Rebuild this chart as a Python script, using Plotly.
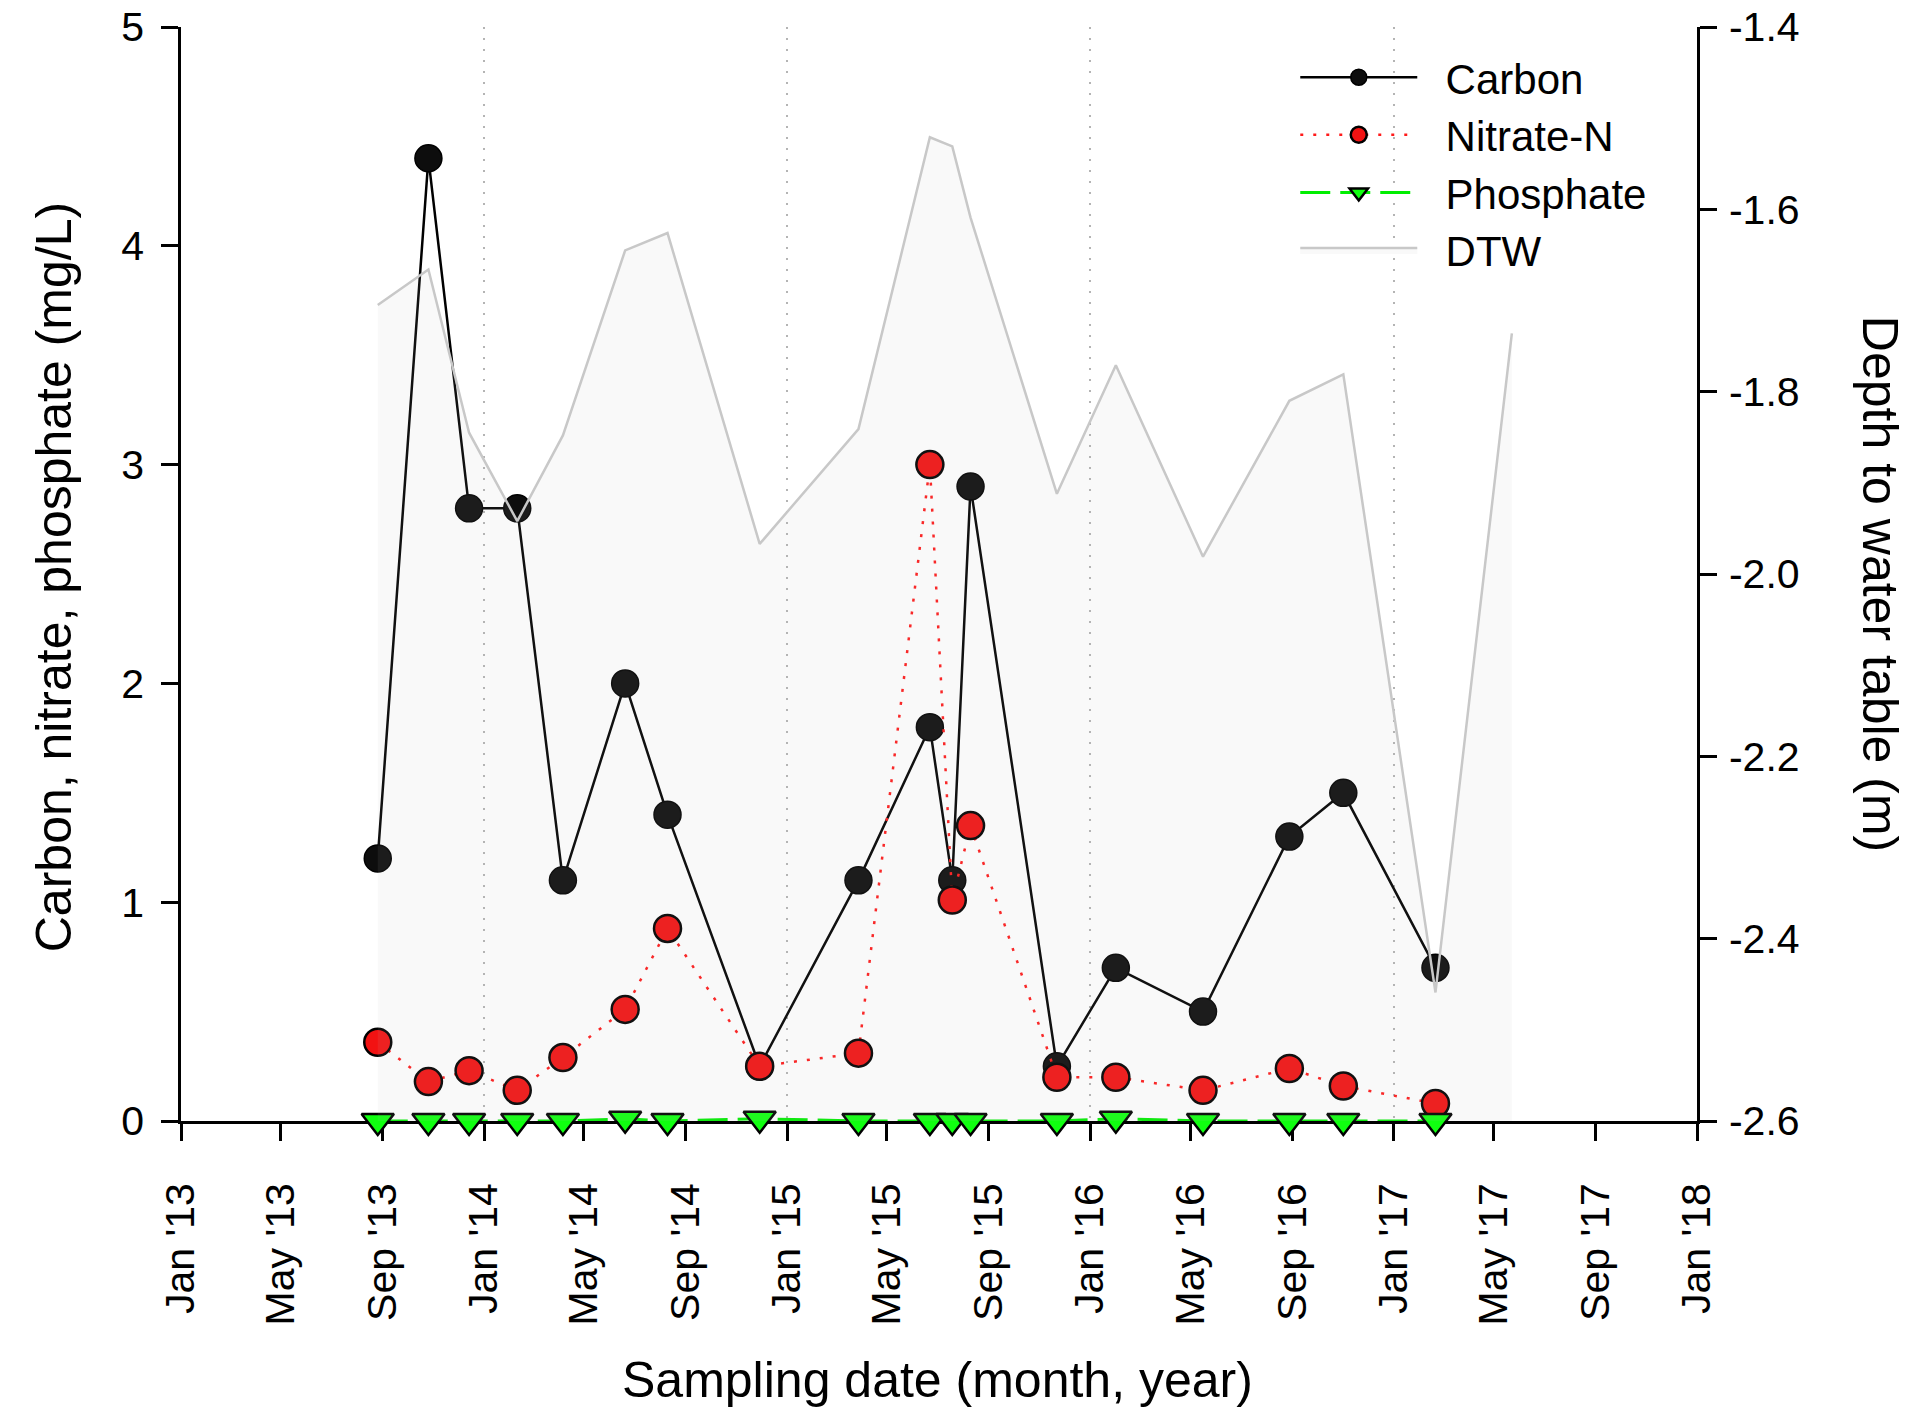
import plotly.graph_objects as go

# Sampling dates and measured concentrations (mg/L)
dates = ["2013-08-26", "2013-10-26", "2013-12-14", "2014-02-10", "2014-04-06",
         "2014-06-20", "2014-08-10", "2014-11-29", "2015-03-28", "2015-06-22",
         "2015-07-19", "2015-08-10", "2015-11-22", "2016-02-01", "2016-05-16",
         "2016-08-28", "2016-11-01", "2017-02-20"]
carbon = [1.20, 4.40, 2.80, 2.80, 1.10, 2.00, 1.40, 0.25, 1.10, 1.80,
          1.10, 2.90, 0.25, 0.70, 0.50, 1.30, 1.50, 0.70]
nitrate = [0.36, 0.18, 0.23, 0.14, 0.29, 0.51, 0.88, 0.25, 0.31, 3.00,
           1.01, 1.35, 0.20, 0.20, 0.14, 0.24, 0.16, 0.08]
phosphate = [0.00, 0.00, 0.00, 0.00, 0.00, 0.01, 0.00, 0.01, 0.00, 0.00,
             0.00, 0.00, 0.00, 0.01, 0.00, 0.00, 0.00, 0.00]

# Depth to water table (m)
dtw_dates = dates + ["2017-05-23"]
dtw = [-1.705, -1.666, -1.845, -1.942, -1.848, -1.645, -1.626, -1.967, -1.841,
       -1.521, -1.531, -1.609, -1.912, -1.771, -1.981, -1.810, -1.781, -2.459,
       -1.736]
dtw_floor = -2.6

# Right-axis tick values and their labels
dtw_ticks = [-2.6, -2.4, -2.2, -2.0, -1.8, -1.6, -1.4]
dtw_ticktext = ["-2.6", "-2.4", "-2.2", "-2.0", "-1.8", "-1.6", "-1.4"]

FONT = "Arial, Liberation Sans, sans-serif"
PAD = "\u00a0\u00a0"  # gap between legend glyph and legend text

fig = go.Figure()

fig.add_trace(go.Scatter(
    x=dates, y=carbon, name=PAD + "Carbon", mode="lines+markers",
    line=dict(color="black", width=2.5), cliponaxis=False,
    marker=dict(symbol="circle", size=27, color="#0d0d0d",
                line=dict(color="black", width=1.5)),
))
fig.add_trace(go.Scatter(
    x=dates, y=nitrate, name=PAD + "Nitrate-N", mode="lines+markers",
    line=dict(color="#ff1a1a", width=2.5, dash="3px,10px"), cliponaxis=False,
    marker=dict(symbol="circle", size=27, color="#f21212",
                line=dict(color="black", width=2.5)),
))
fig.add_trace(go.Scatter(
    x=dates, y=phosphate, name=PAD + "Phosphate", mode="lines+markers",
    line=dict(color="#00ee00", width=3, dash="30px,10px"), cliponaxis=False,
    marker=dict(symbol="triangle-down", size=28, color="#10ff10",
                line=dict(color="black", width=2.5)),
))

# Depth to water table: shaded area on the right-hand axis
fig.add_trace(go.Scatter(
    x=dtw_dates, y=[dtw_floor] * len(dtw_dates), xaxis="x2", yaxis="y2",
    mode="lines", line=dict(width=0), showlegend=False, hoverinfo="skip",
))
fig.add_trace(go.Scatter(
    x=dtw_dates, y=dtw, name=PAD + "DTW", xaxis="x2", yaxis="y2", mode="lines",
    line=dict(color="#c8c8c8", width=2.5),
    fill="tonexty", fillcolor="rgba(190,190,190,0.09)",
))

axis_common = dict(
    showline=True, linecolor="black", linewidth=2.5,
    ticks="outside", ticklen=17, tickwidth=2.5, tickcolor="black",
    tickfont=dict(family=FONT, size=41, color="black"),
    showgrid=False, zeroline=False, automargin=False,
)

fig.update_layout(
    width=1931, height=1424,
    margin=dict(l=181, r=234, t=27, b=303),
    plot_bgcolor="white", paper_bgcolor="white",
    font=dict(family=FONT, color="black"),
    xaxis=dict(
        type="date", range=["2013-01-01", "2018-01-01"],
        tick0="2013-01-01", dtick="M4", tickformat="%b '%y",
        tickangle=-90, ticklabelstandoff=26, layer="below traces",
        **axis_common,
    ),
    xaxis2=dict(
        type="date", overlaying="x", matches="x", anchor="y2",
        showgrid=True, gridcolor="#b4b4b4", griddash="2px,9px", gridwidth=2,
        tick0="2013-01-01", dtick="M12",
        showticklabels=False, ticks="", showline=False, zeroline=False,
        automargin=False,
    ),
    yaxis=dict(range=[0, 5], dtick=1, ticklabelstandoff=9, **axis_common),
    yaxis2=dict(range=[-2.6, -1.4], tickmode="array", tickvals=dtw_ticks,
                ticktext=dtw_ticktext, ticklabelstandoff=4,
                overlaying="y", side="right", anchor="x", **axis_common),
    legend=dict(
        x=0.735, y=0.985, xanchor="left", yanchor="top",
        font=dict(family=FONT, size=42, color="black"),
        itemwidth=117, bgcolor="rgba(0,0,0,0)", tracegroupgap=0,
        traceorder="normal",
    ),
    annotations=[
        dict(text="Carbon, nitrate, phosphate (mg/L)", xref="paper", yref="paper",
             x=-0.0838, y=0.497, textangle=-90, showarrow=False,
             font=dict(family=FONT, size=50, color="black"),
             xanchor="center", yanchor="middle"),
        dict(text="Depth to water table (m)", xref="paper", yref="paper",
             x=1.1207, y=0.491, textangle=90, showarrow=False,
             font=dict(family=FONT, size=50, color="black"),
             xanchor="center", yanchor="middle"),
        dict(text="Sampling date (month, year)", xref="paper", yref="paper",
             x=0.4987, y=-0.2367, showarrow=False,
             font=dict(family=FONT, size=50, color="black"),
             xanchor="center", yanchor="middle"),
    ],
)

fig.write_html("out.html")
